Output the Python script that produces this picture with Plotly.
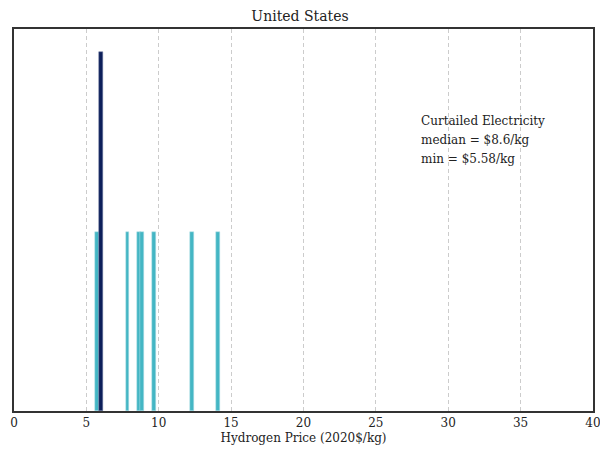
import plotly.graph_objects as go

# Hydrogen price bins (2020$/kg): bin centres and counts
curtailed_prices = [5.76, 7.84, 8.63, 8.87, 9.67, 12.30, 14.12]
curtailed_counts = [1, 1, 1, 1, 1, 1, 1]
grid_prices = [6.00]
grid_counts = [2]
bin_width = 0.27

x_ticks = [0, 5, 10, 15, 20, 25, 30, 35, 40]

summary_lines = ["Curtailed Electricity", "median = $8.6/kg", "min = $5.58/kg"]
summary_y = [1.617, 1.511, 1.405]

fig = go.Figure()
fig.add_trace(go.Bar(
    x=curtailed_prices, y=curtailed_counts, width=bin_width,
    marker=dict(color="#44b6c4", line=dict(color="#b8e3ea", width=0.5)),
    showlegend=False,
))
fig.add_trace(go.Bar(
    x=grid_prices, y=grid_counts, width=bin_width,
    marker=dict(color="#0d1f5a", line=dict(color="#6f7ba0", width=0.5)),
    showlegend=False,
))

for line, yv in zip(summary_lines, summary_y):
    fig.add_annotation(
        x=28, y=yv, xref="x", yref="y", xanchor="left", yanchor="middle",
        align="left", showarrow=False, text=line,
        font=dict(family="DejaVu Serif", size=12, color="#222"),
    )

fig.update_layout(
    width=600, height=451,
    margin=dict(l=14, r=7, t=29, b=40),
    paper_bgcolor="white", plot_bgcolor="white",
    barmode="overlay", bargap=0,
    font=dict(family="DejaVu Serif", size=12, color="#222"),
    title=dict(text="United States", x=0.5, xanchor="center", y=0.965,
               yanchor="middle", font=dict(size=14, color="#222")),
)
fig.update_xaxes(
    range=[0, 40], tickvals=x_ticks, ticktext=[str(v) for v in x_ticks],
    showgrid=True, gridcolor="#cccccc", griddash="4px,3px", gridwidth=1,
    showline=True, linecolor="#333", linewidth=1.5, mirror=True,
    ticks="", zeroline=False, automargin=False, ticklabeloverflow="allow",
    title=dict(text="Hydrogen Price (2020$/kg)", standoff=4,
               font=dict(size=12)),
)
fig.update_yaxes(
    range=[0, 2.13], showticklabels=False, showgrid=False, ticks="",
    showline=True, linecolor="#333", linewidth=1.5, mirror=True,
    zeroline=False, automargin=False,
)

fig.write_html("out.html")
